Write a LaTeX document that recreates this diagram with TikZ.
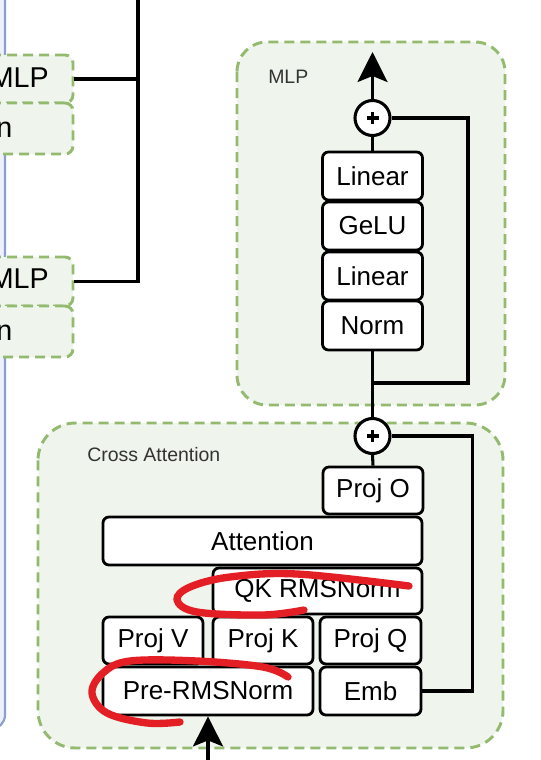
\documentclass[tikz,border=0pt]{standalone}
\usepackage{fontspec}
\setmainfont{Liberation Sans}
\usetikzlibrary{arrows.meta}
\definecolor{gfill}{HTML}{EFF5EC}
\definecolor{gdraw}{HTML}{93BA6E}
\definecolor{bdraw}{HTML}{8C9ED0}
\definecolor{bfill}{HTML}{EEF1FA}
\definecolor{scrib}{HTML}{E31E24}
\begin{document}
\begin{tikzpicture}[x=0.75pt,y=-0.75pt,
 blk/.style={draw=black, line width=2.1pt, rounded corners=4.5pt, fill=white, inner sep=0pt, font=\fontsize{19.5}{22}\selectfont, text=black},
 grp/.style={draw=gdraw, fill=gfill, line width=2.2pt, dash pattern=on 7.5pt off 4.5pt},
 wire/.style={line width=2.3pt, draw=black},
 arr/.style={wire, -{Stealth[length=22.5pt,width=22.5pt,inset=4.5pt]}},
 psum/.style={circle, draw=black, line width=2.3pt, fill=white, minimum size=26.25pt, inner sep=0pt},
 plusbar/.style={line width=2.8pt, draw=black},
 scribble/.style={draw=scrib, line width=5.5pt, line cap=round, line join=round},
 grplabel/.style={font=\fontsize{14.6}{17}\selectfont, text=black!80, anchor=west, inner sep=0pt},
 lefttext/.style={font=\fontsize{21.5}{24}\selectfont, anchor=base east, inner sep=0pt},
 lgrp/.style={grp, rounded corners=6pt, inner sep=0pt, minimum width=84.75pt}
]
\useasboundingbox (0,0) rectangle (541,760);
\fill[white] (0,0) rectangle (541,760);

% blue container edge (left)
\draw[draw=bdraw, fill=bfill, line width=1.6pt, rounded corners=10.5pt] (-60,-60) rectangle (5,729);

% left green boxes
\node[lgrp, minimum height=36pt] (lm1) at (16.5,79) {};
\node[lgrp, minimum height=38.25pt] (ln1) at (16.5,128.5) {};
\node[lgrp, minimum height=36.75pt] (lm2) at (16.5,281.5) {};
\node[lgrp, minimum height=38.25pt] (ln2) at (16.5,331.5) {};
\node[lefttext] (tm1) at (49,87.3) {MLP};
\node[lefttext] (tn1) at (12.5,137) {n};
\node[lefttext] (tm2) at (49,288.3) {MLP};
\node[lefttext] (tn2) at (12.5,340) {n};

% bus
\coordinate (bustop) at (138,-5);
\draw[wire] (bustop) |- (lm2.east);
\draw[wire] (lm1.east) -- (lm1.east -| bustop);

% group containers
\draw[grp, rounded corners=22.5pt] (237,42) rectangle (505,405);
\draw[grp, rounded corners=28pt] (38,423) rectangle (503,748);
\node[grplabel] (mlplab) at (268,77) {MLP};
\node[grplabel] (calab) at (87,455) {Cross Attention};

% MLP blocks
\node[blk, minimum width=75pt, minimum height=36pt] (lin1) at (372.5,176) {Linear};
\node[blk, minimum width=75pt, minimum height=36pt] (gelu) at (372.5,226) {GeLU};
\node[blk, minimum width=75pt, minimum height=36pt] (lin2) at (372.5,276) {Linear};
\node[blk, minimum width=75pt, minimum height=36.75pt] (norm) at (372.5,325.5) {Norm};

% Cross attention blocks
\node[blk, minimum width=75pt, minimum height=35.25pt] (projo) at (373,490.5) {Proj O};
\node[blk, minimum width=239.25pt, minimum height=36pt] (attn) at (262.5,541) {Attention};
\node[blk, minimum width=156.75pt, minimum height=34.5pt] (qkn) at (317.5,591) {QK RMSNorm};
\node[blk, minimum width=75pt, minimum height=35.25pt] (projv) at (153,640.5) {Proj V};
\node[blk, minimum width=75pt, minimum height=35.25pt] (projk) at (263,640.5) {Proj K};
\node[blk, minimum width=75.75pt, minimum height=35.25pt] (projq) at (370.5,640.5) {Proj Q};
\node[blk, minimum width=157.5pt, minimum height=36pt] (prenorm) at (208,691) {Pre-RMSNorm};
\node[blk, minimum width=75.75pt, minimum height=36pt] (emb) at (370.5,691) {Emb};

% adders
\node[psum] (p1) at (372.5,118) {};
\node[psum] (p2) at (372.5,436) {};
\draw[plusbar] (p1.center) ++(-6,0) -- ++(12,0);
\draw[plusbar] (p1.center) ++(0,-6) -- ++(0,12);
\draw[plusbar] (p2.center) ++(-6,0) -- ++(12,0);
\draw[plusbar] (p2.center) ++(0,-6) -- ++(0,12);

% connectors
\coordinate (out) at (372.5,52);
\draw[arr] (p1.north) -- (out);
\draw[wire] (lin1.north) -- (p1.south);
\draw[wire] (norm.south) -- (p2.north);
\coordinate (r1) at (372.5,383);
\draw[wire] (r1) -- ++(95.5,0) |- (p1.east);
\draw[wire] (p2.south) -- (projo.north);
\draw[wire] (emb.east) -- ++(50,0) |- (p2.east);
\coordinate (in) at (208,770);
\draw[arr] (in) -- (prenorm.south);

% red scribbles
\draw[scribble] plot[smooth, tension=0.6] coordinates {(409,586) (297,574) (230,577) (190,587) (177,600) (197,612) (263,615) (304,610)};
\draw[scribble] plot[smooth, tension=0.6] coordinates {(288,677) (263,667) (197,661) (130,661) (103,673) (92,693) (107,713) (147,723) (180,722)};
\end{tikzpicture}
\end{document}
